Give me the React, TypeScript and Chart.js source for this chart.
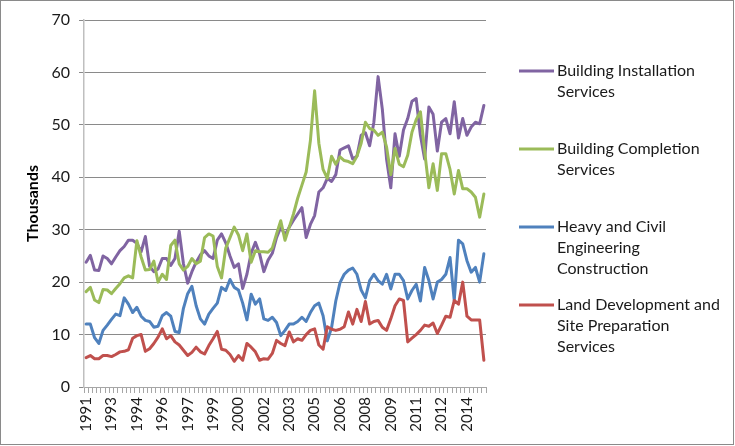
import React, { useEffect, useRef } from 'react';
import { Chart, registerables } from 'chart.js';

Chart.register(...registerables);

// Quarterly categories, 1991 Q3 .. 2015 Q1
const categories: string[] = [
  '1991 Q3','1991 Q4',
  '1992 Q1','1992 Q2','1992 Q3','1992 Q4',
  '1993 Q1','1993 Q2','1993 Q3','1993 Q4',
  '1994 Q1','1994 Q2','1994 Q3','1994 Q4',
  '1995 Q1','1995 Q2','1995 Q3','1995 Q4',
  '1996 Q1','1996 Q2','1996 Q3','1996 Q4',
  '1997 Q1','1997 Q2','1997 Q3','1997 Q4',
  '1998 Q1','1998 Q2','1998 Q3','1998 Q4',
  '1999 Q1','1999 Q2','1999 Q3','1999 Q4',
  '2000 Q1','2000 Q2','2000 Q3','2000 Q4',
  '2001 Q1','2001 Q2','2001 Q3','2001 Q4',
  '2002 Q1','2002 Q2','2002 Q3','2002 Q4',
  '2003 Q1','2003 Q2','2003 Q3','2003 Q4',
  '2004 Q1','2004 Q2','2004 Q3','2004 Q4',
  '2005 Q1','2005 Q2','2005 Q3','2005 Q4',
  '2006 Q1','2006 Q2','2006 Q3','2006 Q4',
  '2007 Q1','2007 Q2','2007 Q3','2007 Q4',
  '2008 Q1','2008 Q2','2008 Q3','2008 Q4',
  '2009 Q1','2009 Q2','2009 Q3','2009 Q4',
  '2010 Q1','2010 Q2','2010 Q3','2010 Q4',
  '2011 Q1','2011 Q2','2011 Q3','2011 Q4',
  '2012 Q1','2012 Q2','2012 Q3','2012 Q4',
  '2013 Q1','2013 Q2','2013 Q3','2013 Q4',
  '2014 Q1','2014 Q2','2014 Q3','2014 Q4',
  '2015 Q1',
];

// Tick labels shown every 6th category
const tickLabels: string[] = [
  '1991','1993','1994','1996','1997','1999','2000','2002',
  '2003','2005','2006','2008','2009','2011','2012','2014',
];
const tickEvery = 6;

const seriesNames: string[] = [
  'Building Installation Services',
  'Building Completion Services',
  'Heavy and Civil Engineering Construction',
  'Land Development and Site Preparation Services',
];

const legendLines: string[][] = [
  ['Building Installation', 'Services'],
  ['Building Completion', 'Services'],
  ['Heavy and Civil', 'Engineering', 'Construction'],
  ['Land Development and', 'Site Preparation', 'Services'],
];

const seriesColors: string[] = ['#8064A2', '#9BBB59', '#4F81BD', '#C0504D'];

const buildingInstallation: number[] = [
  23.8, 25.1, 22.3, 22.2, 25.0, 24.5, 23.5, 24.8, 26.0, 26.8,
  28.0, 28.0, 27.4, 25.8, 28.7, 23.0, 22.0, 22.5, 24.5, 24.5,
  23.2, 24.5, 29.7, 23.5, 19.8, 22.0, 23.8, 25.2, 26.0, 25.0,
  24.5, 28.0, 29.2, 27.5, 25.0, 22.8, 23.5, 18.8, 21.5, 25.5,
  27.6, 25.4, 22.0, 24.2, 25.5, 28.5, 30.5, 29.0, 30.5, 31.8,
  33.0, 34.2, 28.5, 31.0, 32.7, 37.2, 38.0, 39.8, 39.2, 40.5,
  45.2, 45.6, 46.0, 43.5, 44.0, 48.0, 48.5, 46.0, 50.5, 59.2,
  53.0, 43.5, 38.0, 48.3, 44.0, 49.0, 51.2, 54.5, 55.0, 48.0,
  43.5, 53.4, 52.0, 45.0, 50.5, 51.2, 48.3, 54.4, 47.5, 51.2,
  48.0, 49.6, 50.5, 50.2, 53.7,
];

const buildingCompletion: number[] = [
  18.2, 19.0, 16.6, 16.1, 18.6, 18.5, 17.8, 18.8, 19.7, 20.8,
  21.2, 20.8, 27.9, 24.8, 22.3, 22.4, 24.0, 20.0, 21.5, 20.5,
  27.0, 28.0, 23.5, 22.3, 23.0, 24.5, 23.5, 24.0, 28.5, 29.2,
  28.8, 23.0, 20.8, 26.5, 28.5, 30.5, 29.0, 26.0, 29.2, 23.8,
  26.0, 25.8, 25.8, 25.7, 26.5, 29.2, 31.7, 28.0, 30.5, 33.0,
  36.0, 38.5, 41.0, 47.0, 56.5, 46.5, 41.5, 39.8, 44.0, 42.5,
  43.9, 43.2, 43.0, 42.6, 44.0, 46.5, 50.5, 49.3, 49.0, 48.0,
  48.6, 45.8, 40.5, 45.5, 42.5, 42.0, 44.2, 48.6, 51.0, 52.5,
  45.0, 38.0, 42.6, 37.5, 44.5, 44.5, 41.5, 36.8, 41.3, 37.8,
  37.8, 37.2, 36.2, 32.4, 36.8,
];

const heavyCivil: number[] = [
  12.0, 12.0, 9.4, 8.3, 10.8, 11.8, 12.9, 13.9, 13.6, 17.0,
  15.8, 14.2, 15.2, 13.5, 12.7, 12.5, 11.4, 11.6, 13.6, 14.2,
  13.5, 10.6, 10.4, 15.0, 17.8, 19.2, 15.5, 13.0, 12.0, 13.9,
  15.0, 16.0, 19.0, 18.4, 20.5, 19.0, 18.5, 16.0, 12.8, 17.7,
  15.8, 16.8, 13.0, 12.7, 13.3, 12.3, 9.8, 10.8, 12.0, 12.0,
  12.5, 13.3, 12.5, 14.2, 15.5, 16.0, 13.6, 8.8, 11.3, 16.4,
  19.9, 21.5, 22.3, 22.7, 21.5, 18.5, 17.0, 20.3, 21.5, 20.3,
  19.6, 21.5, 18.7, 21.5, 21.5, 20.3, 16.8, 18.4, 19.6, 16.4,
  22.8, 20.3, 16.8, 20.0, 20.5, 21.5, 24.7, 16.5, 28.0, 27.3,
  24.1, 21.9, 22.8, 20.0, 25.4,
];

const landDevelopment: number[] = [
  5.6, 6.0, 5.4, 5.4, 6.0, 6.0, 5.8, 6.2, 6.7, 6.8,
  7.1, 9.3, 9.8, 10.0, 6.8, 7.3, 8.3, 9.5, 11.1, 9.2,
  9.8, 8.6, 8.0, 7.0, 6.0, 6.6, 7.6, 6.7, 6.3, 7.9,
  9.2, 10.6, 7.2, 7.0, 6.2, 4.9, 6.0, 5.1, 8.3, 7.6,
  6.7, 5.1, 5.4, 5.3, 6.4, 8.9, 8.3, 7.9, 10.5, 8.6,
  9.2, 8.9, 10.0, 10.8, 11.1, 8.0, 7.2, 11.5, 11.0, 10.8,
  11.0, 11.5, 14.3, 12.0, 14.8, 12.5, 16.3, 12.0, 12.5, 12.7,
  11.4, 10.8, 13.0, 15.5, 16.8, 16.5, 8.6, 9.3, 10.0, 10.8,
  11.8, 11.6, 12.2, 10.2, 11.8, 13.5, 13.3, 16.5, 15.8, 20.0,
  13.5, 12.8, 12.8, 12.8, 5.1,
];

const seriesValues: number[][] = [
  buildingInstallation,
  buildingCompletion,
  heavyCivil,
  landDevelopment,
];

const FONT = 'Lato';
const TEXT_COLOR = '#1a1a1a';

const sideLegend = {
  id: 'sideLegend',
  afterDraw(chart: any) {
    const ctx = chart.ctx as CanvasRenderingContext2D;
    ctx.save();
    chart.data.datasets.forEach((ds: any, k: number) => {
      const y0 = 71 + 78 * k;
      ctx.strokeStyle = ds.borderColor;
      ctx.lineWidth = 3;
      ctx.lineCap = 'butt';
      ctx.beginPath();
      ctx.moveTo(519, y0);
      ctx.lineTo(554, y0);
      ctx.stroke();
      ctx.fillStyle = TEXT_COLOR;
      ctx.font = `16px ${FONT}`;
      ctx.textBaseline = 'middle';
      ctx.textAlign = 'left';
      legendLines[k].forEach((t, j) => ctx.fillText(t, 557, y0 + j * 21));
    });
    ctx.strokeStyle = '#8a8a8a';
    ctx.lineWidth = 1;
    ctx.strokeRect(0.5, 0.5, 733, 444);
    ctx.restore();
  },
};

export default function App() {
  const ref = useRef<HTMLCanvasElement | null>(null);

  useEffect(() => {
    if (!ref.current) return;
    const chart = new Chart(ref.current, {
      type: 'line',
      data: {
        labels: categories,
        datasets: seriesValues.map((vals, k) => ({
          label: seriesNames[k],
          data: vals,
          borderColor: seriesColors[k],
          backgroundColor: seriesColors[k],
          borderWidth: 3,
          pointRadius: 0,
          tension: 0,
          borderJoinStyle: 'round' as const,
          borderCapStyle: 'round' as const,
          order: 4 - k,
        })),
      },
      options: {
        responsive: false,
        animation: false,
        devicePixelRatio: 1,
        layout: { padding: { left: 0, right: 249, top: 20, bottom: 0 } },
        plugins: { legend: { display: false }, tooltip: { enabled: false } },
        scales: {
          x: {
            type: 'category',
            offset: true,
            grid: {
              offset: true,
              drawOnChartArea: false,
              drawTicks: true,
              tickLength: 6,
              color: '#a6a6a6',
            },
            border: { color: '#a6a6a6', width: 1 },
            ticks: {
              autoSkip: false,
              maxRotation: 90,
              minRotation: 90,
              padding: 4,
              color: TEXT_COLOR,
              font: { family: FONT, size: 15 },
              callback: (_v: any, i: number) =>
                i % tickEvery === 0 ? tickLabels[i / tickEvery] : '',
            },
            afterFit: (s: any) => {
              s.height = 59;
            },
          },
          y: {
            min: 0,
            max: 70,
            ticks: {
              stepSize: 10,
              padding: 9,
              color: TEXT_COLOR,
              font: { family: FONT, size: 16 },
            },
            grid: { color: '#8a8a8a', tickLength: 5 },
            border: { color: '#bfbfbf', width: 1.5 },
            title: {
              display: true,
              text: 'Thousands',
              color: '#000',
              font: { family: FONT, size: 16, weight: 'bold' },
              padding: { top: 23, bottom: 0 },
            },
            afterFit: (s: any) => {
              s.width = 84;
            },
          },
        },
      },
      plugins: [sideLegend],
    });
    return () => chart.destroy();
  }, []);

  return (
    <div style={{ position: 'absolute', left: 0, top: 0, width: 735, height: 446, background: '#fff' }}>
      <canvas ref={ref} width={735} height={446} style={{ width: 735, height: 446, display: 'block' }} />
    </div>
  );
}
